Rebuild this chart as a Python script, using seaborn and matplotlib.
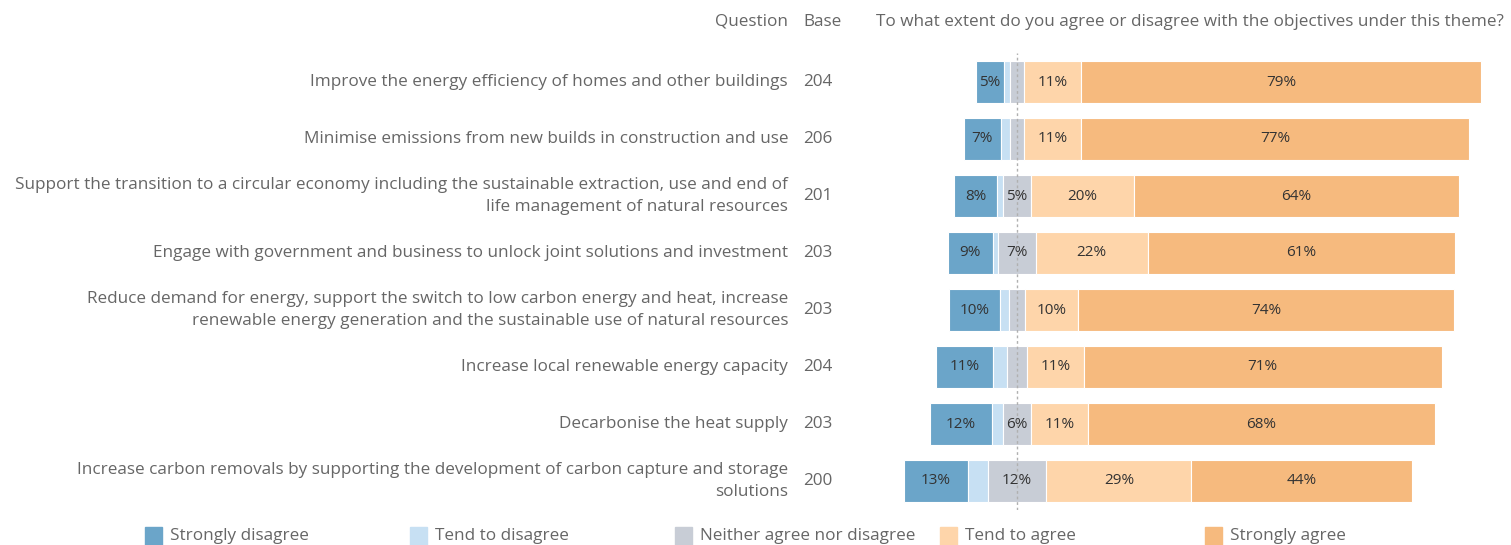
import matplotlib

matplotlib.use("Agg")

import matplotlib.pyplot as plt  # noqa: E402
import numpy as np  # noqa: E402
import pandas as pd  # noqa: E402
import seaborn as sns  # noqa: E402
from matplotlib.patches import Rectangle  # noqa: E402

questions = [
    "Improve the energy efficiency of homes and other buildings",
    "Minimise emissions from new builds in construction and use",
    "Support the transition to a circular economy including the sustainable extraction, use and end of\n"
    "life management of natural resources",
    "Engage with government and business to unlock joint solutions and investment",
    "Reduce demand for energy, support the switch to low carbon energy and heat, increase\n"
    "renewable energy generation and the sustainable use of natural resources",
    "Increase local renewable energy capacity",
    "Decarbonise the heat supply",
    "Increase carbon removals by supporting the development of carbon capture and storage\n"
    "solutions",
]
bases = [204, 206, 201, 203, 203, 204, 203, 200]

categories = [
    "Strongly disagree",
    "Tend to disagree",
    "Neither agree nor disagree",
    "Tend to agree",
    "Strongly agree",
]
strongly_disagree = [5.4, 7.3, 8.4, 8.9, 9.9, 11.2, 12.3, 12.6]
tend_to_disagree = [1.3, 1.8, 1.3, 1.1, 1.8, 2.8, 2.1, 3.9]
neither = [2.7, 2.9, 5.4, 7.3, 3.3, 3.9, 5.7, 11.6]
tend_to_agree = [11.2, 11.2, 20.3, 22.1, 10.4, 11.2, 11.2, 28.6]
strongly_agree = [79.0, 76.6, 64.2, 60.6, 74.1, 70.6, 68.3, 43.6]

colors = ["#6ba5c9", "#c7e0f3", "#c8cdd6", "#fed5aa", "#f6ba7e"]
TEXT = "#666666"
FONT = ["Open Sans", "DejaVu Sans"]
FS = 12.3

sns.set_theme(style="white")
plt.rcParams["font.family"] = FONT

values = np.array(
    [strongly_disagree, tend_to_disagree, neither, tend_to_agree, strongly_agree]
)
# diverging layout: neutral segment is split around zero
starts = -(values[0] + values[1] + values[2] / 2)
lefts = starts + np.vstack([np.zeros(len(questions)), np.cumsum(values, axis=0)[:-1]])

fig = plt.figure(figsize=(15.11, 5.45), dpi=100)
ax = fig.add_axes([875 / 1511, 1 - 509.5 / 545, 630 / 1511, 456 / 545])

rows = [str(i) for i in range(len(questions))]
for i, cat in enumerate(categories):
    df = pd.DataFrame({"row": rows, "value": values[i]})
    sns.barplot(
        data=df,
        x="value",
        y="row",
        order=rows,
        left=lefts[i],
        color=colors[i],
        width=0.74,
        edgecolor="white",
        linewidth=0.8,
        saturation=1,
        ax=ax,
    )
    if i == 1:
        continue
    labels = [f"{round(v)}%" if v >= 4.5 else "" for v in values[i]]
    ax.bar_label(ax.containers[-1], labels=labels, label_type="center",
                 fontsize=11, color="#333333")

ax.axvline(0, color="#b0b0b0", linestyle=(0, (2, 2)), linewidth=1, zorder=3)
ax.set_xlim(-(1017 - 875) / 5.07, (1505 - 1017) / 5.07)
ax.set_ylim(7.5, -0.5)
ax.set_axis_off()

# question and base columns
for i, (q, b) in enumerate(zip(questions, bases)):
    ax.text(-(1017 - 788) / 5.07, i, q, ha="right", va="center", fontsize=FS,
            color=TEXT, linespacing=1.55, clip_on=False)
    ax.text(-(1017 - 803) / 5.07, i, str(b), ha="left", va="center",
            fontsize=FS, color=TEXT, clip_on=False)

fig.text(788 / 1511, 1 - 22 / 545, "Question", ha="right", va="center",
         fontsize=FS, color=TEXT)
fig.text(803 / 1511, 1 - 22 / 545, "Base", ha="left", va="center",
         fontsize=FS, color=TEXT)
fig.text(876 / 1511, 1 - 22 / 545,
         "To what extent do you agree or disagree with the objectives under this theme?",
         ha="left", va="center", fontsize=FS, color=TEXT)

# legend row along the bottom
for i, cat in enumerate(categories):
    x0 = (145 + 265 * i) / 1511
    fig.patches.append(Rectangle((x0, 0), 17 / 1511, 18 / 545, color=colors[i],
                                 transform=fig.transFigure, figure=fig))
    fig.text(x0 + 25 / 1511, 1 - 536 / 545, cat, ha="left", va="center",
             fontsize=FS, color=TEXT)

fig.savefig("out.png", dpi=100)
